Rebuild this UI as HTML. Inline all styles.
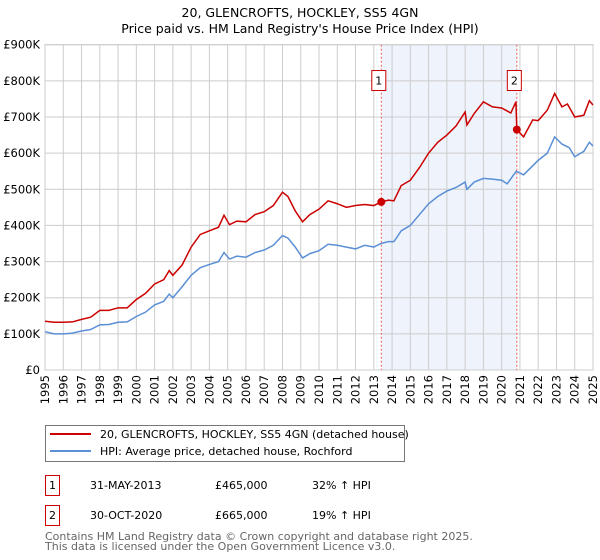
<!DOCTYPE html>
<html><head><meta charset="utf-8"><style>
body{margin:0;background:#fff;}
svg{display:block;font-family:"DejaVu Sans","Liberation Sans",sans-serif;}
</style></head><body>
<svg id="chart" width="600" height="560" xmlns="http://www.w3.org/2000/svg">
<text x="300" y="17" text-anchor="middle" font-size="12.5" fill="#000">20, GLENCROFTS, HOCKLEY, SS5 4GN</text>
<text x="300" y="33" text-anchor="middle" font-size="12.5" fill="#000">Price paid vs. HM Land Registry's House Price Index (HPI)</text>
<g id="plot"></g>
<g>
<rect x="45.5" y="425.5" width="359" height="36" fill="#fff" stroke="#777"/>
<line x1="50" y1="434" x2="91" y2="434" stroke="#cc0000" stroke-width="2"/>
<text x="100" y="438" font-size="11">20, GLENCROFTS, HOCKLEY, SS5 4GN (detached house)</text>
<line x1="50" y1="451" x2="91" y2="451" stroke="#5b8fd6" stroke-width="2"/>
<text x="100" y="455" font-size="11">HPI: Average price, detached house, Rochford</text>
</g>
<g font-size="11">
<rect x="45.5" y="475.5" width="14" height="20" fill="none" stroke="#cc0000"/>
<text x="52.5" y="489" text-anchor="middle">1</text>
<text x="90" y="489">31-MAY-2013</text>
<text x="215" y="489">£465,000</text>
<text x="312" y="489">32% ↑ HPI</text>
</g>
<g font-size="11">
<rect x="45.5" y="505.5" width="14" height="20" fill="none" stroke="#cc0000"/>
<text x="52.5" y="519" text-anchor="middle">2</text>
<text x="90" y="519">30-OCT-2020</text>
<text x="215" y="519">£665,000</text>
<text x="312" y="519">19% ↑ HPI</text>
</g>
<text x="45" y="540" font-size="11" fill="#666">Contains HM Land Registry data © Crown copyright and database right 2025.</text>
<text x="45" y="550" font-size="11" fill="#666">This data is licensed under the Open Government Licence v3.0.</text>
</svg>
<script>
const yTicks=[0,100000,200000,300000,400000,500000,600000,700000,800000,900000];
const yTickLabels=["£0","£100K","£200K","£300K","£400K","£500K","£600K","£700K","£800K","£900K"];
const years=[1995,1996,1997,1998,1999,2000,2001,2002,2003,2004,2005,2006,2007,2008,2009,2010,2011,2012,2013,2014,2015,2016,2017,2018,2019,2020,2021,2022,2023,2024,2025];
const hpiDates=[1995,1995.5,1996,1996.5,1997,1997.5,1998,1998.5,1999,1999.5,2000,2000.5,2001,2001.5,2001.8,2002,2002.5,2003,2003.5,2004,2004.5,2004.8,2005.1,2005.5,2006,2006.5,2007,2007.5,2008,2008.3,2008.7,2009.1,2009.5,2010,2010.5,2011,2011.5,2012,2012.5,2013,2013.4,2013.8,2014.1,2014.5,2015,2015.5,2016,2016.5,2017,2017.5,2018,2018.1,2018.5,2019,2019.5,2020,2020.3,2020.8,2021.2,2021.7,2022,2022.5,2022.9,2023.3,2023.7,2024,2024.5,2024.8,2025];
const hpiValues=[106,100,100,102,108,112,125,126,132,133,148,160,180,190,210,200,230,262,283,292,300,325,307,315,312,325,332,345,372,365,340,310,322,330,348,345,340,335,345,340,350,355,355,385,400,430,460,480,495,505,520,500,520,530,528,525,515,550,540,565,580,600,645,625,615,590,605,630,620];
const priceDates=[1995,1995.5,1996,1996.5,1997,1997.5,1998,1998.5,1999,1999.5,2000,2000.5,2001,2001.5,2001.8,2002,2002.5,2003,2003.5,2004,2004.5,2004.8,2005.1,2005.5,2006,2006.5,2007,2007.5,2008,2008.3,2008.7,2009.1,2009.5,2010,2010.5,2011,2011.5,2012,2012.5,2013,2013.41,2013.8,2014.1,2014.5,2015,2015.5,2016,2016.5,2017,2017.5,2018,2018.1,2018.5,2019,2019.5,2020,2020.5,2020.78,2020.83,2021.2,2021.7,2022,2022.5,2022.9,2023.3,2023.6,2024,2024.5,2024.8,2025];
const priceValues=[135,132,132,133,140,146,165,165,172,172,195,212,238,250,275,262,290,340,375,385,395,428,402,412,410,430,438,455,492,480,440,410,430,445,468,460,450,455,458,455,465,470,468,510,525,560,600,630,650,675,714,678,710,742,728,725,711,742,665,645,692,690,719,765,728,736,700,705,745,733];
const saleDates=[2013.41,2020.83];
const saleValues=[465000,665000];
const saleLabels=["1","2"];
const NS="http://www.w3.org/2000/svg";
const X0=45,X1=593,Y0=370,Y1=44.7;
const xs=t=>X0+(t-1995)/30*(X1-X0);
const ys=v=>Y0-v/900000*(Y0-Y1);
const g=document.getElementById('plot');
function mk(tag,attrs){const e=document.createElementNS(NS,tag);for(const k in attrs)e.setAttribute(k,attrs[k]);g.appendChild(e);return e;}
const bg=mk('rect',{x:xs(saleDates[0]),y:Y1,width:xs(saleDates[1])-xs(saleDates[0]),height:Y0-Y1,fill:'#eef3fc'});


yTicks.forEach((v,i)=>{
 const l=mk('line',{x1:X0,x2:X1,y1:ys(v),y2:ys(v),stroke:'#ccc'});
 
 
 const t=mk('text',{x:X0-5,y:ys(v)+4,'text-anchor':'end','font-size':11.5});
 
 
 t.textContent=yTickLabels[i];
});
years.forEach(yr=>{
 const l=mk('line',{x1:xs(yr),x2:xs(yr),y1:Y1,y2:Y0,stroke:'#ccc'});
 
 
 const t=mk('text',{x:0,y:0,'font-size':11.5,transform:`translate(${xs(yr)+4},${Y0+5}) rotate(-90)`,'text-anchor':'end'});
 
 
 t.textContent=yr;
});
const border=mk('rect',{x:X0,y:Y1,width:X1-X0,height:Y0-Y1,fill:'none',stroke:'#ccc'});


saleDates.forEach((d,i)=>{
 const l=mk('line',{x1:xs(d),x2:xs(d),y1:Y1,y2:Y0,stroke:'#f06060','stroke-dasharray':'2,2'});
 
 
});
const hp=mk('polyline',{points:hpiDates.map((d,i)=>xs(d)+','+ys(hpiValues[i]*1000)).join(' '),fill:'none',stroke:'#5b8fd6','stroke-width':1.5});


const pp=mk('polyline',{points:priceDates.map((d,i)=>xs(d)+','+ys(priceValues[i]*1000)).join(' '),fill:'none',stroke:'#cc0000','stroke-width':1.5});


saleDates.forEach((d,i)=>{
 const c=mk('circle',{cx:xs(d),cy:ys(saleValues[i]),r:4,fill:'#cc0000'});
 
 
 const b=mk('rect',{x:xs(d)-9.5,y:70.5,width:14,height:20,fill:'#fff',stroke:'#cc0000'});
 
 
 const t=mk('text',{x:xs(d)-2.5,y:84.5,'text-anchor':'middle','font-size':11});
 
 
 t.textContent=saleLabels[i];
});
</script>
</body></html>
